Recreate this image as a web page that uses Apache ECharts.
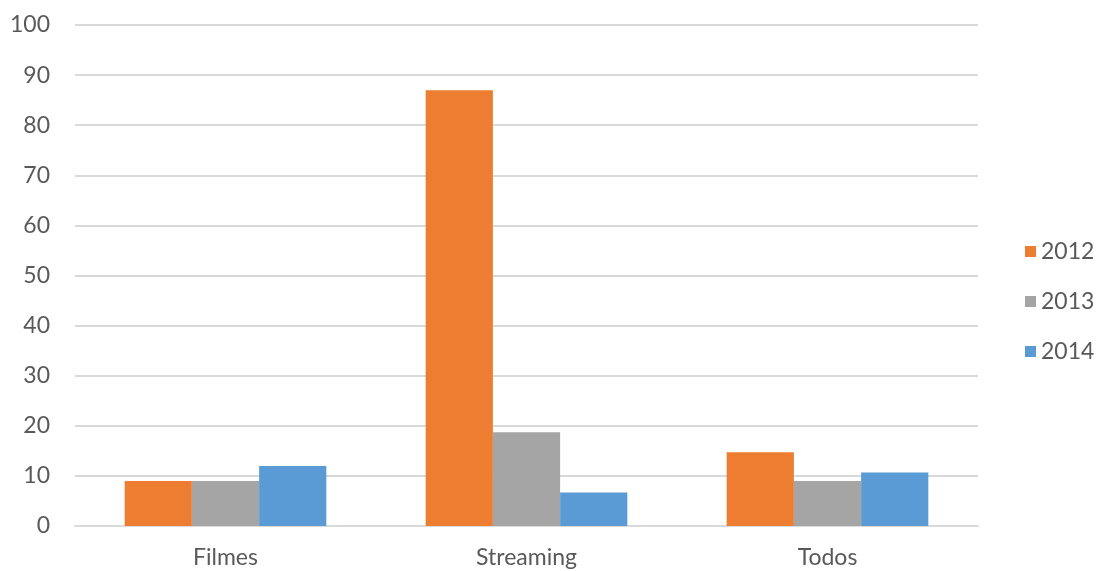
<!DOCTYPE html>
<html>
<head>
<meta charset="utf-8">
<script src="https://cdn.jsdelivr.net/npm/echarts@6/dist/echarts.min.js"></script>
<style>
  html, body { margin: 0; padding: 0; background: #fff; }
  #chart { width: 1101px; height: 571px; }
</style>
</head>
<body>
<div id="chart"></div>
<script>
// Categories and yearly values
const categories = ['Filmes', 'Streaming', 'Todos'];
const years = ['2012', '2013', '2014'];
const values2012 = [9, 87, 14.7];
const values2013 = [9, 18.7, 9];
const values2014 = [12, 6.7, 10.7];
const yTicks = { min: 0, max: 100, interval: 10 };

const colors = ['#ed7d31', '#a5a5a5', '#5b9bd5'];
const labelFont = 'Lato, "Open Sans", sans-serif';
const textColor = '#595959';

const seriesData = [values2012, values2013, values2014];

const chart = echarts.init(document.getElementById('chart'));
chart.setOption({
  animation: false,
  color: colors,
  grid: { left: 75, right: 123, top: 25, bottom: 45 },
  legend: {
    orient: 'vertical',
    left: 1020,
    top: 235,
    itemWidth: 11,
    itemHeight: 11,
    itemGap: 27,
    icon: 'rect',
    data: years,
    textStyle: { fontFamily: labelFont, fontSize: 23, color: textColor }
  },
  xAxis: {
    type: 'category',
    data: categories,
    axisTick: { show: false },
    axisLine: { lineStyle: { color: '#d9d9d9', width: 2 } },
    axisLabel: { fontFamily: labelFont, fontSize: 23, color: textColor, margin: 20 }
  },
  yAxis: {
    type: 'value',
    min: yTicks.min,
    max: yTicks.max,
    interval: yTicks.interval,
    axisLine: { show: false },
    axisTick: { show: false },
    splitLine: { lineStyle: { color: '#d9d9d9', width: 2 } },
    axisLabel: { fontFamily: labelFont, fontSize: 23, color: textColor, margin: 25 }
  },
  series: years.map((y, i) => ({
    name: y,
    type: 'bar',
    data: seriesData[i],
    barGap: '0%',
    barCategoryGap: '33%',
    itemStyle: { color: colors[i] }
  }))
});
</script>
</body>
</html>
